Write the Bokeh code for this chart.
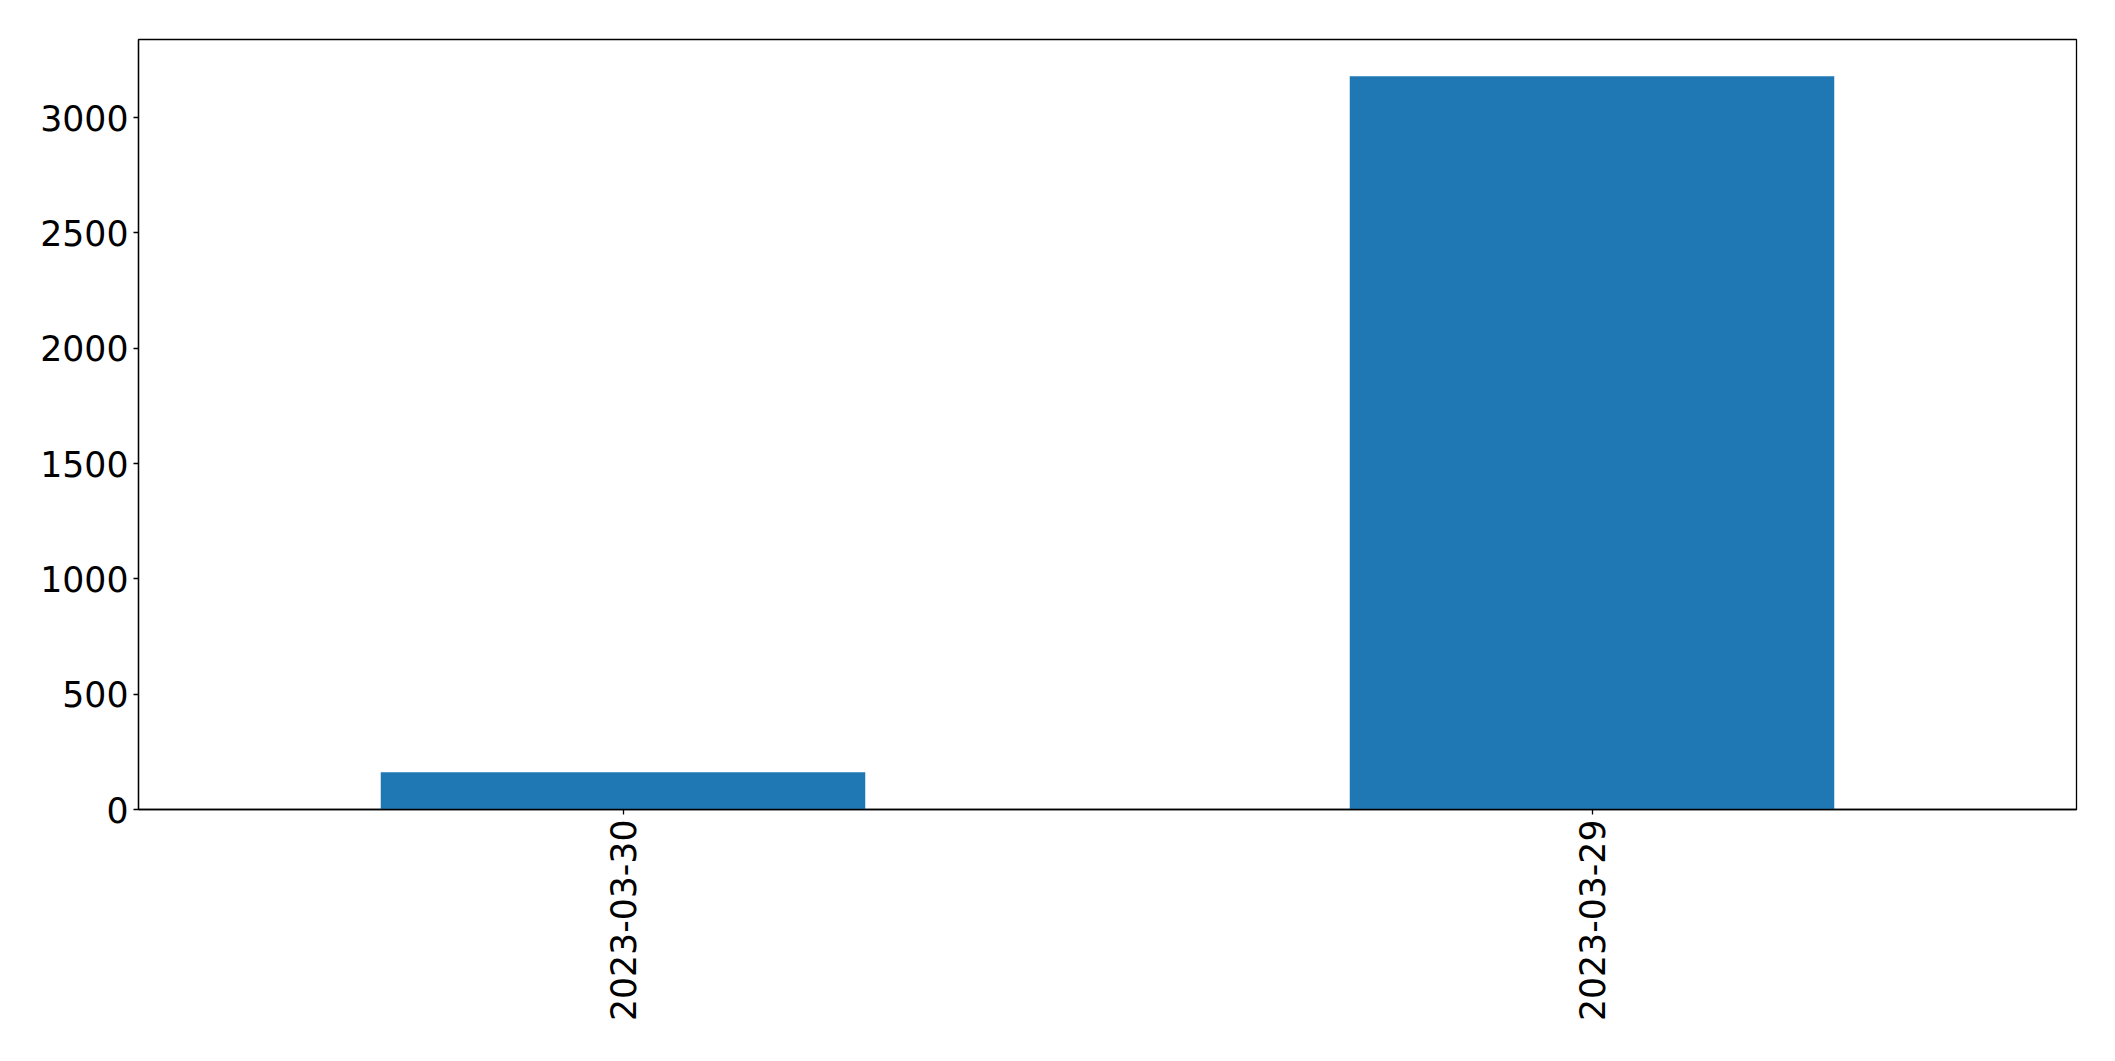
import math
from bokeh.plotting import figure
from bokeh.models import FactorRange, Range1d, FixedTicker, ColumnDataSource
from bokeh.embed import file_html
from bokeh.resources import INLINE

dates = ["2023-03-30", "2023-03-29"]
counts = [162, 3180]
y_ticks = [0, 500, 1000, 1500, 2000, 2500, 3000]

src = ColumnDataSource(data=dict(dates=dates, counts=counts))

p = figure(
    x_range=FactorRange(*dates, range_padding=0),
    y_range=Range1d(0, max(counts) * 1.05),
    width=2107, height=1053,
    output_backend="svg", toolbar_location=None,
    min_border_left=138, min_border_right=31,
    min_border_top=39, min_border_bottom=244,
)
p.vbar(x="dates", top="counts", width=0.5, source=src,
       fill_color="#1f77b4", line_color=None)

p.xgrid.visible = False
p.ygrid.visible = False
p.outline_line_color = "black"
p.outline_line_width = 1.3
p.outline_line_alpha = 1.0
p.background_fill_color = "white"
p.border_fill_color = "white"

for ax in (p.xaxis[0], p.yaxis[0]):
    ax.axis_line_color = "black"
    ax.axis_line_width = 1.3
    ax.major_tick_line_color = "black"
    ax.major_tick_line_width = 1.3
    ax.major_tick_out = 5
    ax.major_tick_in = 0
    ax.minor_tick_line_color = None
    ax.major_label_text_font = "DejaVu Sans"
    ax.major_label_text_font_size = "34.7px"
    ax.major_label_text_color = "black"
    ax.major_label_standoff = 5

p.yaxis[0].ticker = FixedTicker(ticks=y_ticks)
p.xaxis[0].major_label_orientation = math.pi / 2
p.xaxis[0].group_text_font_size = "0px"

open("out.html", "w").write(file_html(p, INLINE))
